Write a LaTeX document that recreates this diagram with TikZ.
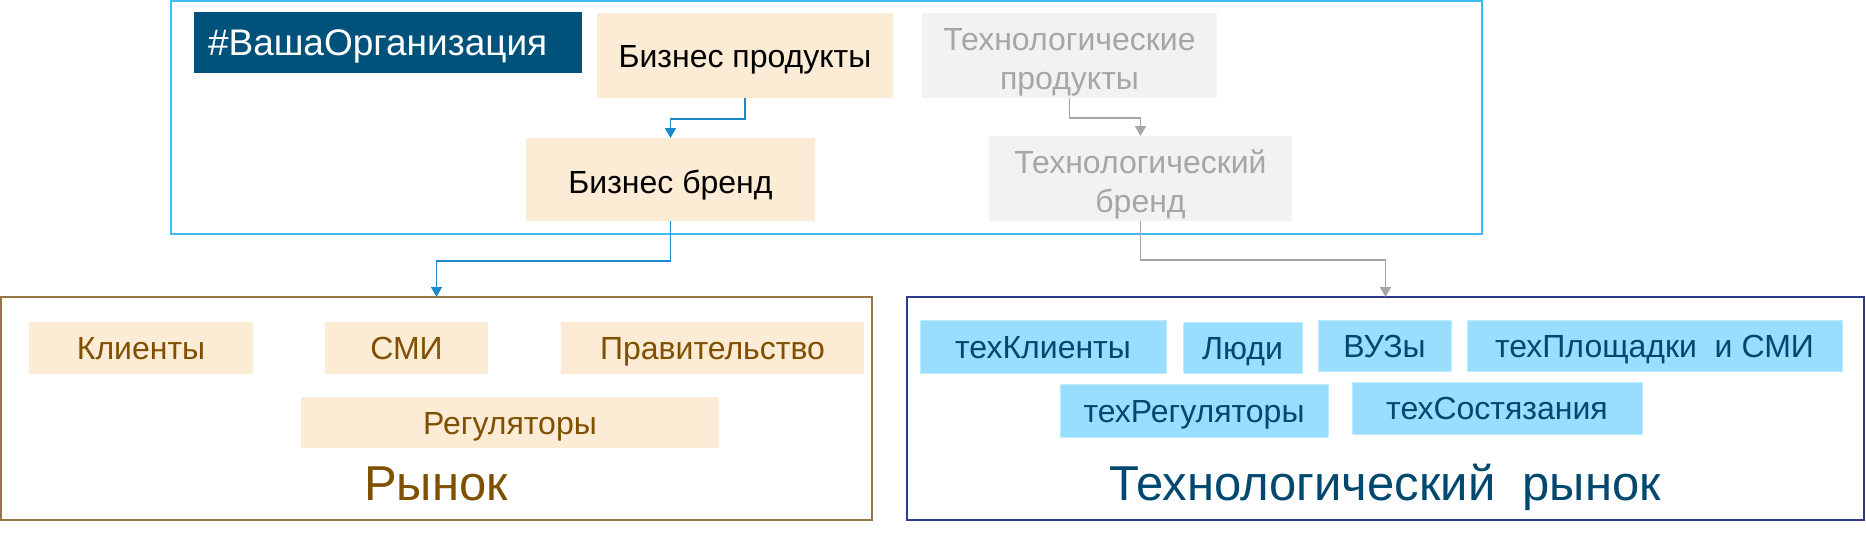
\documentclass[tikz,border=0pt]{standalone}
\usepackage{fontspec}
\setmainfont{Liberation Sans}
\usetikzlibrary{arrows.meta}
\definecolor{peach}{RGB}{252,235,213}
\definecolor{skyb}{RGB}{153,221,255}
\definecolor{skyl}{RGB}{190,235,255}
\definecolor{frameb}{RGB}{60,190,242}
\definecolor{orgb}{RGB}{0,82,122}
\definecolor{brownt}{RGB}{127,80,0}
\definecolor{brownl}{RGB}{150,118,70}
\definecolor{navyl}{RGB}{46,58,140}
\definecolor{techt}{RGB}{0,72,112}
\definecolor{greyt}{RGB}{166,166,166}
\definecolor{greyf}{RGB}{242,242,242}
\definecolor{arrb}{RGB}{30,136,204}
\newcommand{\topstrut}{\rule{0pt}{35pt}}
\begin{document}
\begin{tikzpicture}[x=1pt,y=-1pt,
  every node/.style={inner sep=0pt, outer sep=0pt, align=center},
  sz/.style 2 args={minimum width=#1pt, minimum height=#2pt},
  tone/.style={font=\fontsize{32}{39}\selectfont, text height=23pt, text depth=0pt},
  ttwo/.style={font=\fontsize{32}{39}\selectfont},
  tbig/.style={font=\fontsize{49}{56}\selectfont, text height=35pt, text depth=0pt},
  bizbox/.style={fill=peach, text=black},
  techbox/.style={fill=greyf, text=greyt},
  mktitem/.style={tone, fill=peach, text=brownt},
  techitem/.style={tone, fill=skyb, draw=skyl, line width=1pt, text=techt},
  barrow/.style={draw=arrb, line width=1.5pt, -{Triangle[width=11pt,length=10pt]}},
  garrow/.style={draw=greyt, line width=1.5pt, -{Triangle[width=11pt,length=10pt]}}
]
\useasboundingbox (0,0) rectangle (1866,542);
% frames
\node[draw=frameb, line width=2pt, sz={1311}{233}] (orgframe) at (826.5,117.5) {};
\node[draw=brownl, line width=1.5pt, sz={871}{223}] (mkt) at (436.5,408.5) {};
\node[draw=navyl, line width=2pt, sz={957}{223}] (tmkt) at (1385.5,408.5) {};
% top section
\node[fill=orgb, text=white, font=\fontsize{37}{44}\selectfont, text height=26.5pt, text depth=0pt,
      minimum height=61pt, text width=360pt, align=left, inner xsep=14pt] (org) at (388,42.5) {\#ВашаОрганизация};
\node[bizbox, tone, sz={296}{85}] (bprod) at (745,55.5) {Бизнес продукты};
\node[techbox, ttwo, sz={295}{85}] (tprod) at (1069.5,55.5) {\topstrut Технологические\\продукты};
\node[bizbox, tone, text height=27pt, sz={289}{83}] (bbrand) at (670.5,179.5) {Бизнес бренд};
\node[techbox, ttwo, sz={303}{85}] (tbrand) at (1140.5,178.5) {\topstrut Технологический\\бренд};
% market items
\node[mktitem, sz={224}{52}] (klient) at (141,348) {Клиенты};
\node[mktitem, sz={163}{52}] (smi) at (406.5,348) {СМИ};
\node[mktitem, sz={303}{52}] (prav) at (712.5,348) {Правительство};
\node[mktitem, sz={418}{51}] (regul) at (510,422.5) {Регуляторы};
\node[tbig, text=brownt] (mkttitle) at (436,482.5) {Рынок};
% tech market items
\node[techitem, sz={246}{53}] (tklient) at (1043,346.5) {техКлиенты};
\node[techitem, sz={119}{51}] (ludi) at (1242.5,347.5) {Люди};
\node[techitem, sz={133}{51}] (vuz) at (1384.5,345.5) {ВУЗы};
\node[techitem, sz={375}{51}] (tplosh) at (1654.5,345.5) {техПлощадки~ и СМИ};
\node[techitem, sz={268}{53}] (tregul) at (1194,410.5) {техРегуляторы};
\node[techitem, sz={290}{52}] (tsost) at (1497,408) {техСостязания};
\node[tbig, text=techt] (tmkttitle) at (1385,482.5) {Технологический~ рынок};
% connectors
\draw[barrow] (bprod.south) -- ++(0,21) -| (bbrand.north);
\draw[garrow] (tprod.south) -- ++(0,20) -| (tbrand.north);
\draw[barrow] (bbrand.south) -- ++(0,40) -| (mkt.north);
\draw[garrow] (tbrand.south) -- ++(0,39) -| (tmkt.north);
\end{tikzpicture}
\end{document}
